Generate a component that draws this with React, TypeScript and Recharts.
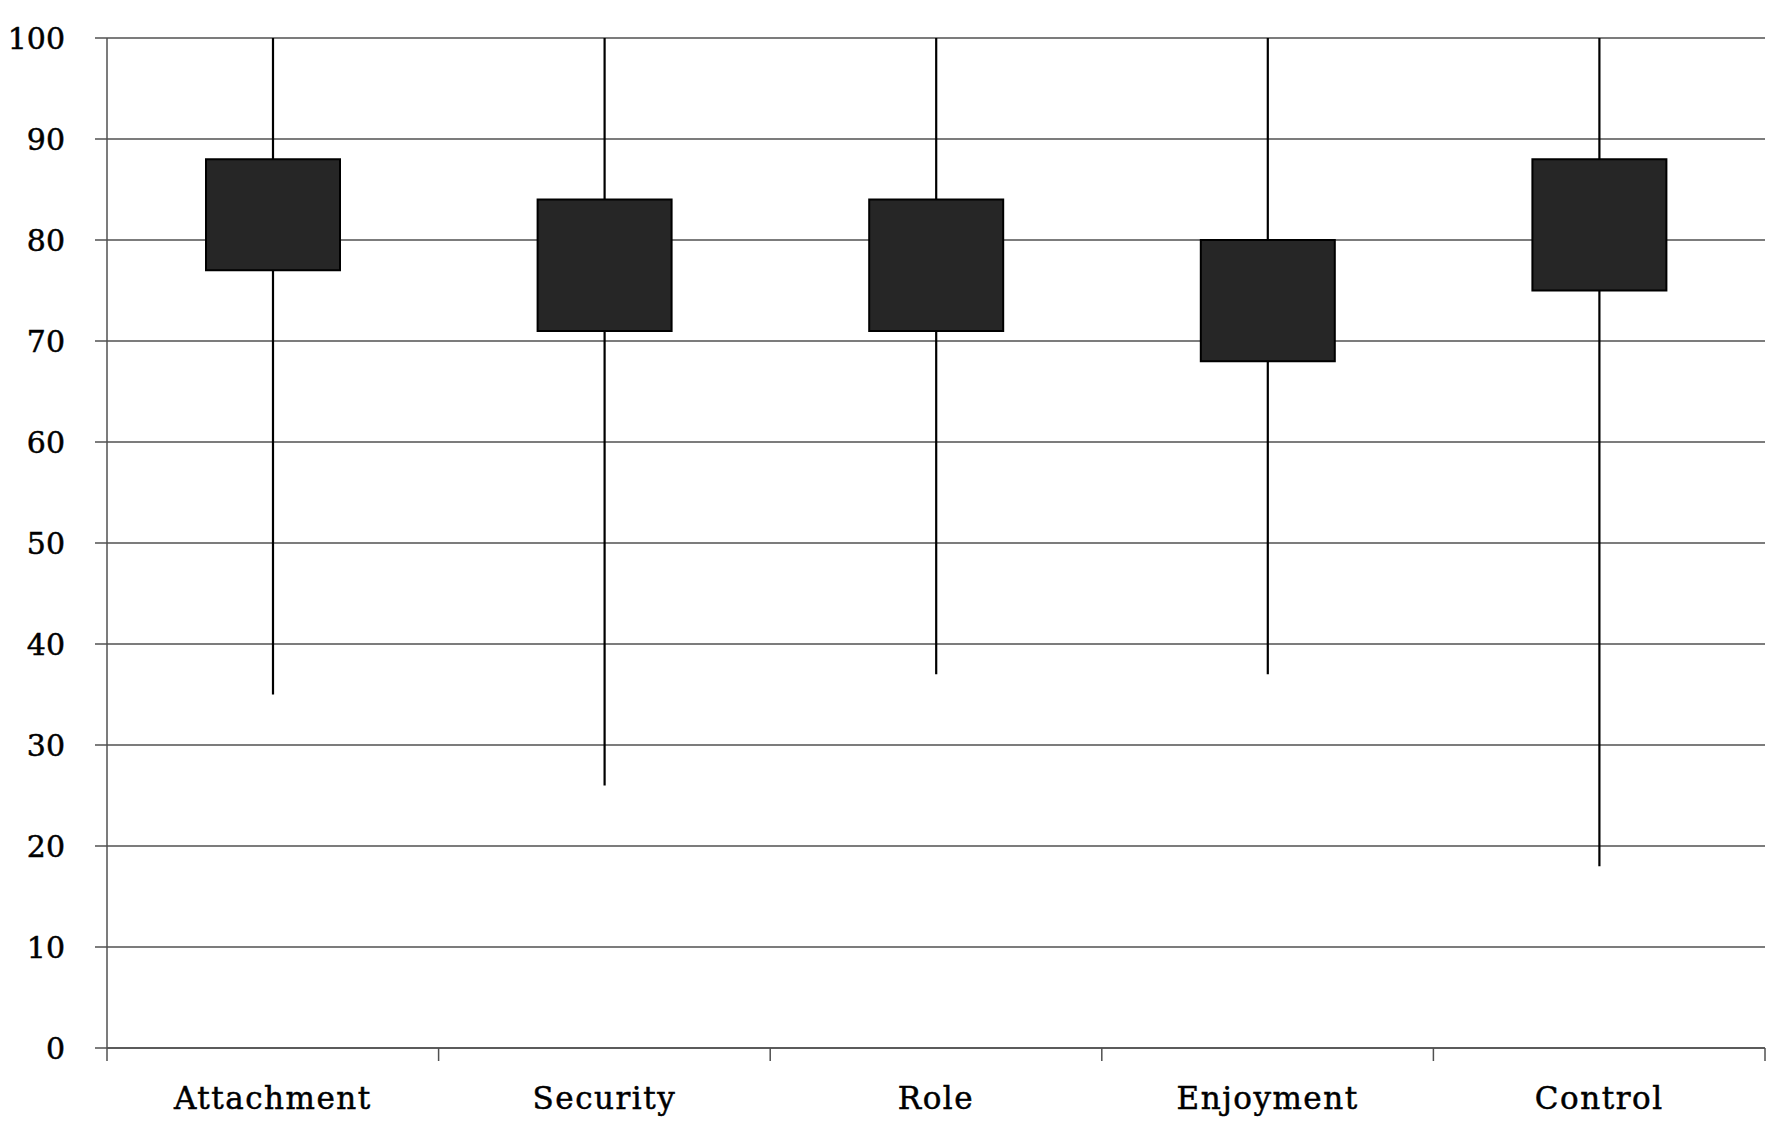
import React from 'react'
import { BarChart, Bar, XAxis, YAxis, CartesianGrid } from 'recharts'

const categories = ['Attachment', 'Security', 'Role', 'Enjoyment', 'Control']
const boxLow = [77, 71, 71, 68, 75]
const boxHigh = [88, 84, 84, 80, 88]
const whiskerLow = [35, 26, 37, 37, 18]
const whiskerHigh = [100, 100, 100, 100, 100]
const yTicks = [0, 10, 20, 30, 40, 50, 60, 70, 80, 90, 100]

const data = categories.map((name, i) => ({
  name,
  box: [boxLow[i], boxHigh[i]],
  whisker: [whiskerLow[i], whiskerHigh[i]],
}))

const FONT = '"DejaVu Serif", serif'
const GRID = '#505050'

const Whisker = ({ x, y, width, height }: any) => {
  const cx = x + width / 2
  return <line x1={cx} x2={cx} y1={y} y2={y + height} stroke="#000" strokeWidth={2.2} />
}

const CategoryTick = ({ x, y, payload, index }: any) => {
  const half = payload.offset || 0
  return (
    <g>
      <line x1={x - half} x2={x - half} y1={y} y2={y + 13} stroke={GRID} strokeWidth={1.5} />
      {index === categories.length - 1 && (
        <line x1={x + half} x2={x + half} y1={y} y2={y + 13} stroke={GRID} strokeWidth={1.5} />
      )}
      <text
        x={x}
        y={y + 61}
        textAnchor="middle"
        fontFamily={FONT}
        fontSize={31}
        letterSpacing={1.5}
        fill="#000"
        stroke="#000"
        strokeWidth={0.5}
      >
        {payload.value}
      </text>
    </g>
  )
}

export default function App() {
  return (
    <BarChart
      width={1769}
      height={1112}
      data={data}
      margin={{ top: 30, right: 12, left: 0, bottom: 0 }}
    >
      <CartesianGrid vertical={false} stroke={GRID} strokeWidth={1.5} />
      <XAxis
        dataKey="name"
        height={72}
        axisLine={{ stroke: GRID, strokeWidth: 1.5 }}
        tickLine={false}
        tickSize={0}
        tickMargin={0}
        interval={0}
        tick={<CategoryTick />}
      />
      <XAxis xAxisId="w" dataKey="name" hide />
      <YAxis
        width={99}
        domain={[0, 100]}
        ticks={yTicks}
        interval={0}
        axisLine={{ stroke: GRID, strokeWidth: 1.5 }}
        tickLine={{ stroke: GRID, strokeWidth: 1.5 }}
        tickSize={12}
        tickMargin={30}
        tick={{ fontFamily: FONT, fontSize: 30, fill: '#000', stroke: '#000', strokeWidth: 0.5 }}
      />
      <Bar xAxisId="w" dataKey="whisker" barSize={134} shape={<Whisker />} isAnimationActive={false} />
      <Bar dataKey="box" barSize={134} fill="#262626" stroke="#000" strokeWidth={2} isAnimationActive={false} />
    </BarChart>
  )
}
